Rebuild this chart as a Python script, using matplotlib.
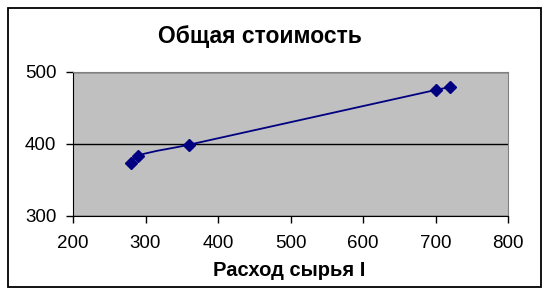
import matplotlib
matplotlib.use("Agg")
import matplotlib.pyplot as plt
import numpy as np
from matplotlib.path import Path
from matplotlib.patches import PathPatch, Rectangle

# data
rashod = [280, 290, 360, 700, 720]
stoimost = [374, 384, 399, 475, 479]

x_ticks = [200, 300, 400, 500, 600, 700, 800]
y_ticks = [300, 400, 500]

NAVY = "#000080"
GRAY = "#C0C0C0"

plt.rcParams["font.family"] = ["Liberation Sans", "DejaVu Sans"]

fig = plt.figure(figsize=(5.49, 2.96), dpi=100)
fig.patch.set_facecolor("white")
ax = fig.add_axes([73 / 549, 80 / 296, 435 / 549, 144 / 296])
ax.set_facecolor(GRAY)

# outer chart border
fig.patches.append(Rectangle((8 / 549, 9 / 296), 533 / 549, 279 / 296,
                             transform=fig.transFigure, fill=False,
                             edgecolor="black", linewidth=1.3))

# smoothed line: cubic bezier through the points, tangent length
# limited by each segment so nothing overshoots
pts = np.column_stack([rashod, stoimost]).astype(float)
n = len(pts)
tang = []
for i in range(n):
    a = pts[max(i - 1, 0)]
    b = pts[min(i + 1, n - 1)]
    d = b - a
    tang.append(d / np.hypot(*d))
verts = [tuple(pts[0])]
codes = [Path.MOVETO]
for i in range(n - 1):
    L = np.hypot(*(pts[i + 1] - pts[i])) / 3
    verts += [tuple(pts[i] + tang[i] * L), tuple(pts[i + 1] - tang[i + 1] * L),
              tuple(pts[i + 1])]
    codes += [Path.CURVE4] * 3
ax.add_patch(PathPatch(Path(verts, codes), facecolor="none",
                       edgecolor=NAVY, linewidth=1.3, zorder=3))
ax.plot(rashod, stoimost, linestyle="none", marker="D", markersize=6.3,
        color=NAVY, zorder=4)

ax.set_xlim(200, 800)
ax.set_ylim(300, 500)
ax.set_xticks(x_ticks)
ax.set_yticks(y_ticks)
ax.grid(axis="y", color="black", linewidth=1.0)
ax.set_axisbelow(True)

for s in ["top", "right"]:
    ax.spines[s].set_color("#808080")
for s in ["left", "bottom"]:
    ax.spines[s].set_color("black")
ax.tick_params(direction="out", length=5, width=1, labelsize=13.5)
ax.tick_params(axis="x", pad=9)
ax.tick_params(axis="y", pad=7)

fig.text(260 / 549, 1 - 43 / 296, "Общая стоимость", fontsize=16.5,
         fontweight="bold", ha="center", va="baseline")
fig.text(289 / 549, 1 - 276 / 296, "Расход сырья I", fontsize=14.5,
         fontweight="bold", ha="center", va="baseline")

fig.savefig("out.png", dpi=100)
